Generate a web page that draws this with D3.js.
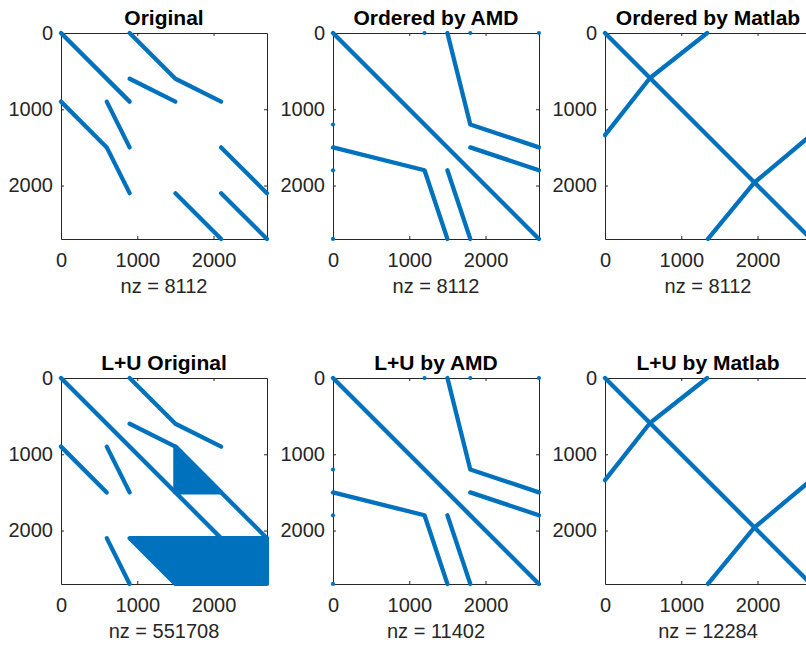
<!DOCTYPE html>
<html>
<head>
<meta charset="utf-8">
<script src="https://cdn.jsdelivr.net/npm/d3@7"></script>
<style>
  body { margin: 0; background: #fff; }
  svg { display: block; font-family: "Liberation Sans", Arial, sans-serif; }
</style>
</head>
<body>
<div id="chart"></div>
<script>
const matrixSize = 2700;
const tickValues = [0, 1000, 2000];
const titles = ['Original', 'Ordered by AMD', 'Ordered by Matlab', 'L+U Original', 'L+U by AMD', 'L+U by Matlab'];
const nzCounts = [8112, 8112, 8112, 551708, 11402, 12284];

// runs of nonzeros, each one a list of [col, row] vertices
const originalLines = [
  [[0, 0], [900, 900]],
  [[900, 0], [1500, 600], [2100, 900]],
  [[900, 600], [1500, 900]],
  [[0, 900], [600, 1500], [900, 2100]],
  [[600, 900], [900, 1500]],
  [[2100, 1500], [2700, 2100]],
  [[1500, 2100], [2100, 2700]],
  [[2100, 2100], [2700, 2700]]
];

const amdLines = [
  [[0, 0], [2700, 2700]],
  [[1500, 0], [1800, 1200], [2700, 1500]],
  [[1800, 1500], [2700, 1800]],
  [[0, 1500], [1200, 1800], [1500, 2700]],
  [[1500, 1800], [1800, 2700]]
];
const amdDots = [[1200, 0], [1800, 0], [2700, 0], [0, 1200], [0, 1800], [0, 2700]];

const matlabLines = [
  [[0, 0], [2700, 2700]],
  [[0, 1340], [590, 590], [1340, 0]],
  [[1350, 2700], [1960, 1960], [2700, 1340]]
];

const luOriginalLines = [
  [[0, 0], [2100, 2100]],
  [[900, 0], [1500, 600], [2100, 900]],
  [[900, 600], [1500, 900], [2700, 2100]],
  [[0, 900], [600, 1500]],
  [[600, 900], [900, 1500]],
  [[600, 2100], [900, 2700]]
];
// filled-in blocks of the factor
const luOriginalFills = [
  [[1500, 900], [1500, 1500], [2100, 1500]],
  [[900, 2100], [2700, 2100], [2700, 2700], [1500, 2700]]
];

// the AMD and Matlab factors keep the same pattern as the reordered matrix
const luAmdLines = amdLines;
const luAmdDots = amdDots;
const luMatlabLines = matlabLines;

const panels = [
  { lines: originalLines, fills: [], dots: [] },
  { lines: amdLines, fills: [], dots: amdDots },
  { lines: matlabLines, fills: [], dots: [] },
  { lines: luOriginalLines, fills: luOriginalFills, dots: [] },
  { lines: luAmdLines, fills: [], dots: luAmdDots },
  { lines: luMatlabLines, fills: [], dots: [] }
];

const dimension = {
  width: 806,
  height: 646,
  size: 206,
  left: [61, 333, 605],
  top: [33, 378]
};

const blue = '#0072bd';
const axisColor = '#262626';

const svg = d3.select('#chart')
  .append('svg')
  .attr('width', dimension.width)
  .attr('height', dimension.height);

panels.forEach((p, i) => {
  const size = dimension.size;
  const ctr = svg.append('g')
    .attr('transform', `translate(${dimension.left[i % 3]}, ${dimension.top[Math.floor(i / 3)]})`);

  const xScale = d3.scaleLinear().domain([0, matrixSize + 1]).range([0, size]);
  const yScale = d3.scaleLinear().domain([0, matrixSize + 1]).range([0, size]);

  const styleAxis = s => {
    s.attr('font-size', 20)
      .attr('font-family', '"Liberation Sans", Arial, sans-serif')
      .style('color', axisColor);
    s.select('.domain').attr('stroke-width', 1);
  };

  ctr.append('g')
    .attr('transform', `translate(0, ${size})`)
    .call(d3.axisBottom(xScale).tickValues(tickValues).tickFormat(d3.format('d'))
      .tickSizeInner(-3).tickSizeOuter(0).tickPadding(14))
    .call(styleAxis);
  ctr.append('g')
    .call(d3.axisLeft(yScale).tickValues(tickValues).tickFormat(d3.format('d'))
      .tickSizeInner(-3).tickSizeOuter(0).tickPadding(8))
    .call(styleAxis);
  ctr.append('g')
    .call(d3.axisTop(xScale).tickValues(tickValues).tickSizeInner(-3).tickSizeOuter(0).tickFormat(''))
    .call(styleAxis);
  ctr.append('g')
    .attr('transform', `translate(${size}, 0)`)
    .call(d3.axisRight(yScale).tickValues(tickValues).tickSizeInner(-3).tickSizeOuter(0).tickFormat(''))
    .call(styleAxis);

  const line = d3.line()
    .x(d => xScale(d[0]))
    .y(d => yScale(d[1]));

  ctr.selectAll('path.fill')
    .data(p.fills)
    .join('path')
    .attr('class', 'fill')
    .attr('d', d => line(d) + 'Z')
    .attr('fill', blue)
    .attr('stroke', blue)
    .attr('stroke-width', 4.3)
    .attr('stroke-linejoin', 'round');

  ctr.selectAll('path.run')
    .data(p.lines)
    .join('path')
    .attr('class', 'run')
    .attr('d', line)
    .attr('fill', 'none')
    .attr('stroke', blue)
    .attr('stroke-width', 4.3)
    .attr('stroke-linecap', 'round')
    .attr('stroke-linejoin', 'round');

  ctr.selectAll('circle')
    .data(p.dots)
    .join('circle')
    .attr('cx', d => xScale(d[0]))
    .attr('cy', d => yScale(d[1]))
    .attr('r', 2.1)
    .attr('fill', blue);

  ctr.append('text')
    .attr('x', size / 2)
    .attr('y', -8)
    .attr('text-anchor', 'middle')
    .attr('font-size', 21)
    .attr('font-weight', 'bold')
    .attr('fill', '#000')
    .text(titles[i]);

  ctr.append('text')
    .attr('x', size / 2)
    .attr('y', size + 54)
    .attr('text-anchor', 'middle')
    .attr('font-size', 20)
    .attr('fill', axisColor)
    .text(`nz = ${nzCounts[i]}`);
});
</script>
</body>
</html>
